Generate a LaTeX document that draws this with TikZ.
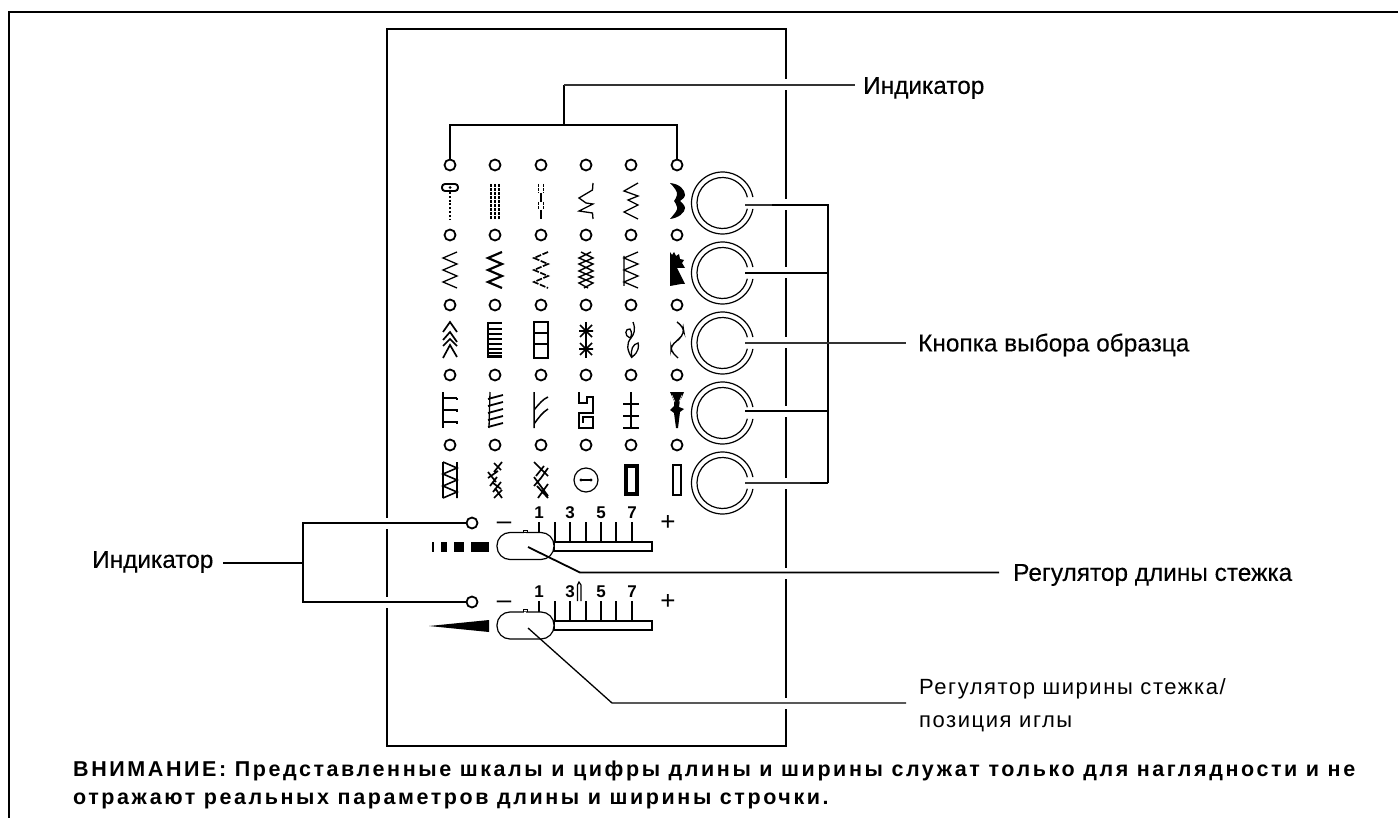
\documentclass[tikz,border=0pt]{standalone}
\usepackage{fontspec}
\setmainfont{Liberation Sans}
\newfontfamily\labelfont[FakeBold=0.2]{Liberation Sans}
\newfontfamily\spacedfont[LetterSpace=7]{Liberation Sans}
\newfontfamily\notefont[LetterSpace=12]{Liberation Sans Bold}
\usetikzlibrary{shapes.misc}
\tikzset{
  frameline/.style={line width=2pt,black},
  leader/.style={line width=1.8pt,black},
  thin leader/.style={line width=1.1pt,black!80},
  lamp/.style={circle,draw=black,line width=1.8pt,inner sep=0pt,minimum size=11pt,fill=white},
  lbl/.style={inner sep=0pt,anchor=west,font=\labelfont\fontsize{24.4}{28}\selectfont},
  lbls/.style={inner sep=0pt,font=\spacedfont\fontsize{22}{33}\selectfont},
  num/.style={inner sep=0pt,font=\bfseries\fontsize{17}{18}\selectfont},
  sign/.style={inner sep=0pt,font=\fontsize{26}{26}\selectfont},
  capsule/.style={draw=black,line width=1.2pt,fill=white,rounded corners=13pt,minimum width=57pt,minimum height=27pt,inner sep=0pt},
  st/.style={line width=1.3pt,black,line join=miter},
  stb/.style={line width=1.9pt,black},
}
\newcommand{\sym}[3]{\begin{scope}[shift={(#1,#2)}]#3\end{scope}}
\newcommand{\ticks}[1]{%
  \foreach \tx in {539,555,570,586,601,616,632}{\draw[line width=1.5pt] (\tx,#1-11) -- (\tx,#1+9);}
  \draw[line width=1.4pt] (554,#1+9) rectangle (652,#1+18);
  \draw[line width=2.2pt] (652,#1+8) -- (652,#1+19);
  \foreach \tl/\tx in {1/539,3/570,5/601,7/632}{\node[num] at (\tx,#1-20) {\tl};}
  \node[sign] at (504,#1-7) {–};
  \node[sign] at (668,#1-10) {+};
}
\begin{document}
\begin{tikzpicture}[x=1pt,y=-1pt]
\useasboundingbox (0,0) rectangle (1398,818);
\fill[white] (0,0) rectangle (1398,818);
% outer frame and panel
\draw[frameline] (9,818) -- (9,12) -- (1398,12);
\draw[frameline] (387,29) rectangle (786,746);
\foreach \gy in {85,205,273,343,411,483,573,703}{\draw[white,line width=4pt] (786,\gy-5.5) -- (786,\gy+5.5);}
\foreach \gy in {523,602}{\draw[white,line width=4pt] (387,\gy-5.5) -- (387,\gy+5.5);}
% indicator lamps
\foreach \c/\x in {1/450,2/495,3/541,4/586,5/631,6/677}{
  \foreach \r/\y in {1/165,2/235,3/305,4/375,5/445}{
    \node[lamp] (lamp\c\r) at (\x,\y) {};
  }
}
\node[lamp] (lampL) at (472,523) {};
\node[lamp] (lampW) at (472,602) {};
% stitch symbols row 1
\sym{450}{201}{
  \draw[line width=1.9pt,rounded corners=3pt] (-8,-17) rectangle (8,-10);
  \fill (0,-13.5) circle (1.5);
  \draw[line width=2.1pt,dash pattern=on 2pt off 1.8pt] (0,-9) -- (0,18);
}
\sym{495}{201}{
  \foreach \dx in {-4,0,4}{\draw[line width=1.1pt,dash pattern=on 3.2pt off .8pt] (\dx,-17) -- (\dx,18);}
}
\sym{541}{201}{
  \draw[line width=1.3pt] (0,-8) -- (0,1) (0,9) -- (0,18);
  \draw[line width=1.3pt,dash pattern=on 3pt off 1pt] (-2.5,-17) -- (-2.5,-8) (2.5,-17) -- (2.5,-8) (-2.5,1) -- (-2.5,9) (2.5,1) -- (2.5,9);
}
\sym{586}{201}{\draw[st] (7,-18) -- (6.5,-11) -- (-7,-3) -- (0,2) -- (7,3) -- (-7,10) -- (6.5,12) -- (7,18);}
\sym{631}{201}{\draw[st] (7,-18) -- (-7,-10) -- (7,-5) -- (-3,-1) -- (7,4) -- (-7,11) -- (7,18);}
\sym{677}{201}{\fill (-7,-18) .. controls (3,-17) and (8,-11) .. (8,-6) .. controls (8,-3) and (4,-1) .. (3,0) .. controls (4,1) and (8,4) .. (8,7) .. controls (8,12) and (1,17) .. (-7,18) .. controls (-2,12) and (1,9) .. (0,6) .. controls (0,3) and (-3,1) .. (-3,0) .. controls (-3,-1) and (0,-3) .. (0,-6) .. controls (1,-9) and (-3,-14) .. (-7,-18) -- cycle;}
% row 2
\sym{450}{270}{\draw[st] (7,-18) -- (-7,-12) -- (7,-6) -- (-7,0) -- (7,6) -- (-7,12) -- (7,18);}
\sym{495}{270}{\draw[stb,line width=2.2pt] (7,-18) -- (-7,-12) -- (7,-6) -- (-7,0) -- (7,6) -- (-7,12) -- (7,18);}
\sym{541}{270}{\draw[st,line width=1.7pt,dash pattern=on 6pt off 1.5pt] (7,-18) -- (-7,-12) -- (7,-6) -- (-7,0) -- (7,6) -- (-7,12) -- (7,18);}
\sym{586}{270}{\draw[st,line width=1.4pt] (-5,-18) -- (7,-12) -- (-7,-6) -- (7,1) -- (-7,7) -- (7,13) -- (-2,18) (5,-18) -- (-7,-12) -- (7,-6) -- (-7,1) -- (7,7) -- (-7,13) -- (2,18);}
\sym{631}{270}{\draw[st] (7,-18) -- (-7,-12) -- (7,-6) -- (-7,0) -- (7,6) -- (-7,12) -- (7,18) (-7,-14) -- (-7,16);}
\sym{677}{270}{\fill (-7,-18) -- (-5,-15) -- (-3,-18) -- (-1,-14) -- (2,-16) -- (3,-11) -- (7,-10) -- (5,-7) -- (8,-2) -- (0,-2) -- (8,14) -- (4,14) -- (-7,16) -- cycle;}
% row 3
\sym{450}{340}{\draw[stb,line width=1.7pt] (-7,-8) -- (0,-18) -- (7,-8) (-7,0) -- (0,-8) -- (7,2) (-7,6) -- (0,-1) -- (7,6) (-7,18) -- (0,5) -- (7,17);}
\sym{495}{340}{
  \draw[stb,line width=2.2pt] (-7,-18) -- (-7,18);
  \foreach \dy in {-17,-11,-6,-1,4,9,13,17}{\draw[line width=1.7pt] (-7,\dy) -- (7,\dy);}
  \draw[line width=2.2pt] (-7,16) -- (7,16);
}
\sym{541}{340}{
  \draw[line width=1.4pt] (-7,-18) rectangle (7,18);
  \draw[line width=2pt] (-7,-18) -- (-7,18);
  \draw[line width=1.4pt] (-7,-7) -- (7,-7) (-7,4) -- (7,4);
}
\sym{586}{340}{
  \draw[line width=1.3pt] (0,-18) -- (0,18);
  \foreach \ay in {-9,9}{
    \draw[line width=1.7pt] (-7,\ay) -- (7,\ay) (-6,\ay-6) -- (6,\ay+6) (-6,\ay+6) -- (6,\ay-6);
  }
}
\sym{631}{340}{
  \draw[line width=1.3pt] (2,-18) .. controls (5,-10) and (3,-6) .. (0,-2) .. controls (-5,4) and (-4,10) .. (1,18);
  \draw[line width=1.3pt] (-1,-2) .. controls (-7,-4) and (-6,-12) .. (-1,-11) .. controls (1,-8) and (1,-4) .. (-1,-2);
  \draw[line width=1.3pt] (1,17) .. controls (8,12) and (8,6) .. (7,3) .. controls (2,4) and (-1,10) .. (1,17);
}
\sym{677}{340}{\draw[line width=1.4pt,rounded corners=4pt] (0,-18) -- (6,-13) -- (7,-7) -- (2,-1) -- (-6,6) -- (-6,11) -- (1,18);}
% row 4
\sym{450}{410}{\draw[st] (-7,-18) -- (-7,18) (-7,-12) -- (7,-12) (7,-12) -- (7,-10) (-7,0) -- (7,0) -- (7,2) (-7,12) -- (7,12) -- (7,14);}
\sym{495}{410}{
  \draw[line width=1.3pt] (-5,-18) -- (-6,18);
  \foreach \dy in {-14,-7,0,7,14}{\draw[line width=1.8pt] (-7,\dy+3) -- (8,\dy-1);}
}
\sym{541}{410}{\draw[line width=1.5pt] (-7,-18) -- (-7,18) (-7,0) .. controls (-2,-6) and (2,-11) .. (7,-13) (-7,14) .. controls (-2,7) and (2,2) .. (7,-1);}
\sym{586}{410}{\draw[st] (-7,-18) -- (-7,-7) -- (1,-7) -- (1,-13) -- (7,-13) -- (7,3) -- (-7,3) -- (-7,18) -- (7,18) -- (7,7) -- (-3,7) -- (-3,13);}
\sym{631}{410}{\draw[st] (0,-18) -- (0,18) (-8,18) -- (8,18);\draw[line width=2.4pt] (-8,-6) -- (8,-6) (-8,6) -- (8,6);}
\sym{677}{410}{
  \fill (-7,-18) -- (7,-18) -- (5,-13) -- (3,-10) -- (2,-3) -- (7,-1) -- (3,2) -- (1,18) -- (-1,18) -- (-3,3) -- (-7,0) -- (-3,-4) -- (-3,-9) -- cycle;
  \draw[white,line width=.5pt] (-5,-15) -- (-2,-8) (5,-15) -- (2,-8);
}
% row 5
\sym{450}{480}{\draw[line width=1.6pt] (-7,-18) -- (-7,18) (7,-18) -- (7,18) (-7,-18) -- (7,-12) -- (-7,-6) -- (7,0) -- (-7,6) -- (7,12) -- (-7,18);}
\sym{495}{480}{\draw[line width=1.7pt] (7,-18) -- (-1,-8) (-1,-17) -- (6,-10) (3,-9) -- (-7,-2) (-7,-8) -- (1,2) (2,-3) -- (-5,6) (-2,3) -- (6,9) (6,2) -- (-2,12) (0,8) -- (7,18) (7,10) -- (-1,18);}
\sym{541}{480}{\draw[line width=1.7pt] (-7,-18) -- (7,-4) (-5,-4) -- (3,-14) (7,-12) -- (0,-2) (0,-2) -- (-7,6) (-7,-3) -- (7,16) (7,4) -- (-3,18) (-4,6) -- (7,18);}
\sym{586}{480}{
  \draw[line width=1.2pt] (0,0) circle (12);
  \draw[line width=1.2pt] (-4.5,0) -- (4.5,0);
  \fill (-5,0) circle (1.6) (5,0) circle (1.6);
}
\sym{631.5}{480}{\draw[line width=4.4pt] (-5.5,-14) rectangle (5.5,14);}
\sym{677}{480}{\draw[line width=2.4pt] (-4,-15) rectangle (4,15);}
% pattern buttons
\foreach \n/\y in {1/203,2/273,3/343,4/413,5/483}{
  \draw[line width=1.2pt] (722.5,\y) ++(11:31) arc[start angle=11,end angle=349,radius=31];
  \draw[line width=1.2pt] (722.5,\y) ++(13:25.5) arc[start angle=13,end angle=347,radius=25.5];
  \coordinate (btn\n) at (745,\y+1);
}
% sliders
\ticks{533}
\ticks{612}
\node[capsule] (sliderL) at (525.5,546) {};
\node[capsule] (sliderW) at (525.5,625.5) {};
\foreach \sy in {533,612}{
  \draw[line width=1pt] (523,\sy) -- (523,\sy-3) -- (527,\sy-3) -- (527,\sy);
  \fill[white] (523.6,\sy-.5) rectangle (526.4,\sy+.8);
}
% length and width marks
\fill (432,541.5) rectangle (434,552);
\fill (441,541.5) rectangle (447,552);
\fill (454,541.5) rectangle (464,552);
\fill (471,541.5) rectangle (489,552);
\fill (429,626) -- (489,620) -- (489,632) -- cycle;
\draw[line width=1.2pt] (577.5,601) -- (577.5,585) -- (579,582) -- (581,585) -- (581,601);
% labels
\node[lbl] (indTop) at (863,88) {Индикатор};
\node[lbl] (indLeft) at (92,562) {Индикатор};
\node[lbl] (pattern) at (918,345) {Кнопка выбора образца};
\node[lbl] (lenCtl) at (1013,575) {Регулятор длины стежка};
\node[lbls,align=left,anchor=north west] (widCtl) at (919,678.5) {Регулятор ширины стежка/\\позиция иглы};
\node[anchor=north west,inner sep=0pt,align=left,font=\notefont\fontsize{21.5}{27.5}\selectfont] (note) at (73,761) {ВНИМАНИЕ: Представленные шкалы и цифры длины и ширины служат только для наглядности и не\\отражают реальных параметров длины и ширины строчки.};
% top indicator leader
\coordinate (topTee) at (564,125);
\coordinate (topEnd) at (855,85);
\draw[line width=1.3pt] (450,125) -- (lamp61.north |- topTee);
\draw[line width=2pt] (lamp11.north) -- (450,124.5) (lamp61.north) -- (677,124.5);
\draw[line width=2.2pt] (topTee) -- (564,85);
\draw[thin leader] (564,85) -- (topEnd);
% left indicator leader
\coordinate (leftEnd) at (223,563);
\coordinate (leftTee) at (303,563);
\draw[line width=1.5pt] (lampL.west) -- (303,523) -- (303,602) -- (lampW.west);
\draw[leader] (leftEnd) -- (leftTee);
% pattern button leaders
\coordinate (patBus) at (828,205);
\coordinate (patEnd) at (906,343);
\draw[thin leader] (btn1) ++(0,1) -- ++(27,0);
\draw[leader] (772,205) -- (patBus) -- (828,483);
\draw[leader] (745,273) -- (828,273);
\draw[thin leader] (745,343) -- (patEnd);
\draw[leader] (745,411) -- (828,411);
\draw[thin leader] (745,483) -- (810,483);
\draw[leader] (810,483) -- (828,483);
% regulator leaders
\coordinate (lenIn) at (528,547);
\coordinate (lenBend) at (580,572.5);
\coordinate (lenEnd) at (999,572.5);
\draw[leader] (lenIn) -- (lenBend) -- (lenEnd);
\coordinate (widIn) at (528,628);
\coordinate (widBend) at (612,703);
\coordinate (widEnd) at (906,703);
\draw[line width=1.3pt] (widIn) -- (widBend) -- (widEnd);
\end{tikzpicture}
\end{document}
